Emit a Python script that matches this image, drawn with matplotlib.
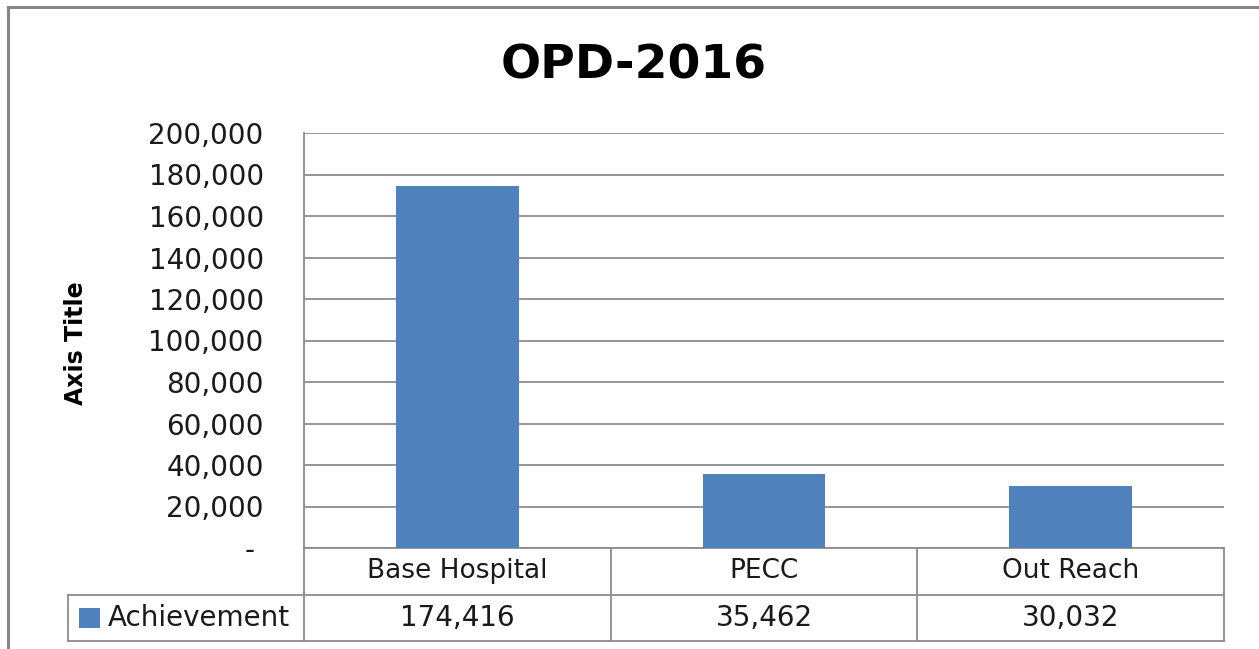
import matplotlib
matplotlib.use("Agg")
import matplotlib.pyplot as plt
from matplotlib.patches import Rectangle
from matplotlib.lines import Line2D
from matplotlib.ticker import FuncFormatter, MultipleLocator

# data
categories = ["Base Hospital", "PECC", "Out Reach"]
achievement = [174416, 35462, 30032]
series_name = "Achievement"

bar_color = "#4F81BD"
line_color = "#8C8C8C"

plt.rcParams["font.family"] = "DejaVu Sans"

W, H = 1259, 649
fig = plt.figure(figsize=(W / 100, H / 100), dpi=100)
ax = fig.add_axes([304 / W, 1 - 548 / H, 920 / W, 415 / H])

x = range(len(categories))
ax.bar(x, achievement, width=0.4, color=bar_color, zorder=3)

ax.set_xlim(-0.5, len(categories) - 0.5)
ax.set_ylim(0, 200000)
ax.yaxis.set_major_locator(MultipleLocator(20000))
ax.yaxis.set_major_formatter(FuncFormatter(lambda v, p: "- " if v == 0 else f"{v:,.0f}"))
ax.tick_params(axis="y", length=0, pad=29, labelsize=20, colors="#1a1a1a")
ax.set_xticks([])
ax.grid(axis="y", color=line_color, linewidth=1.3, zorder=0)

for s in ["top", "right"]:
    ax.spines[s].set_visible(False)
ax.spines["left"].set_color(line_color)
ax.spines["left"].set_linewidth(1.3)
ax.spines["bottom"].set_color(line_color)
ax.spines["bottom"].set_linewidth(1.3)

ax.set_ylabel("Axis Title", fontsize=17, fontweight="bold")
ax.yaxis.set_label_coords(-0.235, 0.494)

# data table below the plot
tr = ax.get_xaxis_transform()
row1_bot = -47 / 415
row2_bot = -93 / 415
left_edge = -0.5 - 236 / (920 / len(categories))

for xv in [i - 0.5 for i in range(len(categories) + 1)]:
    ax.add_line(Line2D([xv, xv], [0, row2_bot], transform=tr, color=line_color,
                       linewidth=1.3, clip_on=False))
ax.add_line(Line2D([left_edge, len(categories) - 0.5], [row1_bot, row1_bot], transform=tr,
                   color=line_color, linewidth=1.3, clip_on=False))
ax.add_line(Line2D([left_edge, len(categories) - 0.5], [row2_bot, row2_bot], transform=tr,
                   color=line_color, linewidth=1.3, clip_on=False))
ax.add_line(Line2D([left_edge, left_edge], [row1_bot, row2_bot], transform=tr,
                   color=line_color, linewidth=1.3, clip_on=False))

for i, (cat, val) in enumerate(zip(categories, achievement)):
    ax.text(i, row1_bot / 2, cat, transform=tr, ha="center", va="center",
            fontsize=19, color="#1a1a1a")
    ax.text(i, (row1_bot + row2_bot) / 2, f"{val:,}", transform=tr, ha="center",
            va="center", fontsize=20, color="#1a1a1a")

# legend key + series name
fig.add_artist(Rectangle((79 / W, 1 - 628 / H), 21 / W, 20 / H, transform=fig.transFigure,
                         facecolor=bar_color, edgecolor="none"))
fig.text(108 / W, 1 - 618 / H, series_name, ha="left", va="center", fontsize=20,
         color="#1a1a1a")

fig.text(634 / W, 1 - 66 / H, "OPD-2016", ha="center", va="center", fontsize=34,
         fontweight="bold")

# outer chart border (only left and top visible)
fig.add_artist(Line2D([8 / W, 8 / W], [0, 1 - 7 / H], transform=fig.transFigure,
                      color="#878787", linewidth=2.2))
fig.add_artist(Line2D([8 / W, 1], [1 - 7 / H, 1 - 7 / H], transform=fig.transFigure,
                      color="#878787", linewidth=2.2))

fig.savefig("out.png", dpi=100, facecolor="white")
